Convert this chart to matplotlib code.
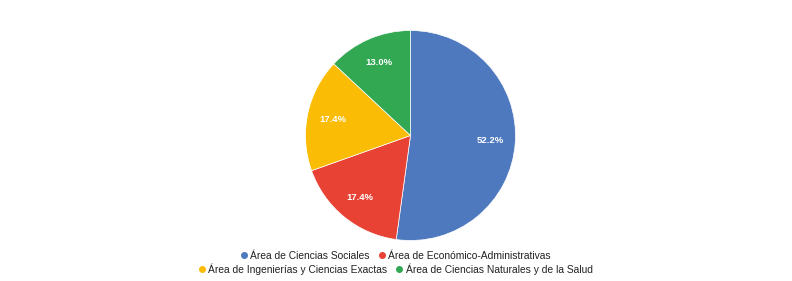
import matplotlib
matplotlib.use('Agg')
import matplotlib.pyplot as plt
from matplotlib.lines import Line2D

# --- Data ---
categories = ['Área de Ciencias Sociales', 'Área de Económico-Administrativas',
              'Área de Ingenierías y Ciencias Exactas', 'Área de Ciencias Naturales y de la Salud']
values = [12, 4, 4, 3]
colors = ['#4e79bf', '#e84235', '#fbbc05', '#32a852']

plt.rcParams['font.family'] = ['Liberation Sans', 'DejaVu Sans']

fig = plt.figure(figsize=(7.92, 2.81), dpi=100)
W, H = 792, 281
cx, cy, r = 410.5, 135.5, 105
ax = fig.add_axes([(cx - r) / W, 1 - (cy + r) / H, 2 * r / W, 2 * r / H])

wedges, texts, autotexts = ax.pie(values, colors=colors, startangle=90, counterclock=False,
                                  autopct='%1.1f%%', pctdistance=0.76,
                                  wedgeprops=dict(edgecolor='white', linewidth=0.5))
for t in autotexts:
    t.set_color('white')
    t.set_fontsize(6.8)
    t.set_fontweight('bold')
ax.set_xlim(-1, 1)
ax.set_ylim(-1, 1)
ax.set_aspect('auto')

# --- Legend, two centred rows ---
def handle(c):
    return Line2D([], [], marker='o', color='none', markerfacecolor=c,
                  markeredgecolor=c, markersize=4)

rows = [(0, 1, 256), (2, 3, 269)]
for i, j, y in rows:
    fig.legend([handle(colors[i]), handle(colors[j])], [categories[i], categories[j]],
               loc='center', bbox_to_anchor=(0.5, 1 - y / H), ncol=2, frameon=False,
               fontsize=7.4, handlelength=0.5, handletextpad=0.4, columnspacing=0.9,
               borderpad=0, labelcolor='#222222')

fig.savefig('out.png', dpi=100)
